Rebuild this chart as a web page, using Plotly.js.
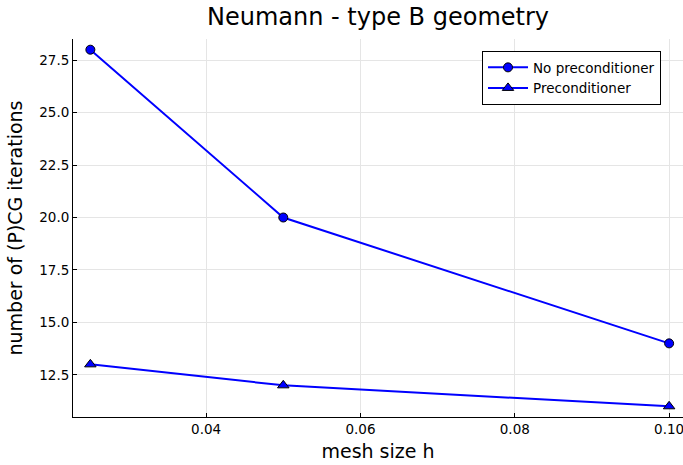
<!DOCTYPE html>
<html>
<head>
<meta charset="utf-8">
<script src="https://cdn.plot.ly/plotly-3.0.1.min.js"></script>
<style>html,body{margin:0;padding:0;background:#fff;}#plot{width:683px;height:465px;}</style>
</head>
<body>
<div id="plot"></div>
<script>
const meshSize = [0.025, 0.05, 0.1];
const noPrecond = [28, 20, 14];
const precond = [13, 12, 11];
const seriesNames = ["No preconditioner", "Preconditioner"];
const yTicks = [12.5, 15.0, 17.5, 20.0, 22.5, 25.0, 27.5];
const xTicks = [0.04, 0.06, 0.08, 0.10];

const font = "DejaVu Sans, sans-serif";
const traces = [
  {x: meshSize, y: noPrecond, name: seriesNames[0], mode: "lines+markers",
   line: {color: "#0000ff", width: 2},
   marker: {symbol: "circle", size: 9, color: "#0000ff", line: {color: "#000", width: 1}}},
  {x: meshSize, y: precond, name: seriesNames[1], mode: "lines+markers",
   line: {color: "#0000ff", width: 2},
   marker: {symbol: "triangle-up", size: 10, color: "#0000ff", line: {color: "#000", width: 1}}}
];
const layout = {
  width: 683, height: 465,
  margin: {l: 73, r: 0, t: 39, b: 48},
  paper_bgcolor: "#fff", plot_bgcolor: "#fff",
  font: {family: font, color: "#000"},
  title: {text: "Neumann - type B geometry", font: {size: 24, family: font}, x: 0.5, xref: "paper", y: 0.983, yanchor: "top"},
  showlegend: true,
  legend: {x: 0.6705, y: 0.968, xanchor: "left", yanchor: "top", bordercolor: "#000", borderwidth: 1,
           bgcolor: "#fff", font: {size: 13.5, family: font}, tracegroupgap: 0, itemwidth: 40},
  xaxis: {range: [0.02275, 0.1018], tickvals: xTicks, ticktext: xTicks.map(v => v.toFixed(2)),
          showgrid: true, gridcolor: "#e5e5e5", gridwidth: 1, zeroline: false,
          showline: true, linecolor: "#000", linewidth: 1, ticks: "inside", ticklen: 4, tickcolor: "#000",
          tickfont: {size: 13.5, family: font}, ticklabeloverflow: "allow",
          title: {text: "mesh size h", font: {size: 19, family: font}, standoff: 8}},
  yaxis: {range: [10.49, 28.51], tickvals: yTicks, ticktext: yTicks.map(v => v.toFixed(1)),
          showgrid: true, gridcolor: "#e5e5e5", gridwidth: 1, zeroline: false,
          showline: true, linecolor: "#000", linewidth: 1, ticks: "inside", ticklen: 4, tickcolor: "#000",
          tickfont: {size: 13.5, family: font},
          title: {text: "number of (P)CG iterations", font: {size: 19, family: font}, standoff: 11}}
};
Plotly.newPlot("plot", traces, layout, {displayModeBar: false, staticPlot: true});
</script>
</body>
</html>
